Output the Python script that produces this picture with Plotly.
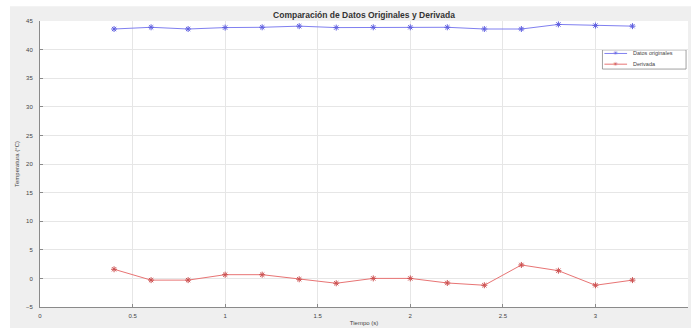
import plotly.graph_objects as go

# Tiempo de muestreo (s)
tiempo = [0.4, 0.6, 0.8, 1.0, 1.2, 1.4, 1.6, 1.8, 2.0, 2.2, 2.4, 2.6, 2.8, 3.0, 3.2]
# Temperatura medida (°C)
datos_originales = [43.6, 43.9, 43.6, 43.85, 43.9, 44.1, 43.85, 43.9, 43.9, 43.9,
                    43.6, 43.6, 44.4, 44.2, 44.1]
# Derivada de la temperatura
derivada = [1.6, -0.3, -0.3, 0.65, 0.65, -0.15, -0.85, 0.0, 0.0, -0.8,
            -1.2, 2.35, 1.35, -1.2, -0.3]

series_names = ["Datos originales", "Derivada"]

x_ticks = [0, 0.5, 1, 1.5, 2, 2.5, 3, 3.5]
x_labels = ["0", "0.5", "1", "1.5", "2", "2.5", "3", "3.5"]
y_ticks = [-5, 0, 5, 10, 15, 20, 25, 30, 35, 40, 45]

FONT = "Liberation Sans, Arial, sans-serif"
BLUE_LINE, BLUE_MARK = "#8080f0", "#6060e0"
RED_LINE, RED_MARK = "#e87474", "#cc5050"

fig = go.Figure()
fig.add_trace(go.Scatter(
    x=tiempo, y=datos_originales, mode="lines+markers", name=series_names[0],
    line=dict(color=BLUE_LINE, width=1),
    marker=dict(symbol="asterisk-open", size=5, color=BLUE_MARK,
                line=dict(color=BLUE_MARK, width=1)),
))
fig.add_trace(go.Scatter(
    x=tiempo, y=derivada, mode="lines+markers", name=series_names[1],
    line=dict(color=RED_LINE, width=1),
    marker=dict(symbol="asterisk-open", size=5, color=RED_MARK,
                line=dict(color=RED_MARK, width=1)),
))

# compact legend box, placed in plot-area fractions
LEG = dict(x0=0.868, x1=0.997, y0=0.832, y1=0.899)
rows = [0.8865, 0.849]
fig.add_shape(type="rect", xref="paper", yref="paper",
              x0=LEG["x0"], x1=LEG["x1"], y0=LEG["y0"], y1=LEG["y1"],
              fillcolor="white", line=dict(color="#7a7a7a", width=0.7),
              layer="between")
for name, yy, lc, mc in zip(series_names, rows,
                            [BLUE_LINE, RED_LINE], [BLUE_MARK, RED_MARK]):
    fig.add_shape(type="line", xref="paper", yref="paper",
                  x0=0.871, x1=0.906, y0=yy, y1=yy,
                  line=dict(color=lc, width=1), layer="above")
    fig.add_annotation(x=0.8885, y=yy, xref="paper", yref="paper",
                       text="✳", showarrow=False, xanchor="center",
                       yanchor="middle", font=dict(size=6, color=mc))
    fig.add_annotation(x=0.912, y=yy, xref="paper", yref="paper",
                       text=name, showarrow=False, xanchor="left",
                       yanchor="middle", font=dict(size=5.5, color="#444"))

# white frame around the gray figure panel
white = dict(type="rect", xref="paper", yref="paper", fillcolor="white",
             line=dict(width=0), layer="below")
fig.add_shape(x0=-0.08, x1=-0.0463, y0=-0.1, y1=1.1, **white)
fig.add_shape(x0=-0.08, x1=1.02, y0=1.052, y1=1.1, **white)

fig.update_layout(
    width=691, height=328,
    margin=dict(l=40, r=3, t=21, b=21),
    paper_bgcolor="#efefef",
    plot_bgcolor="white",
    font=dict(family=FONT, size=6, color="#444"),
    title=dict(text="<b>Comparación de Datos Originales y Derivada</b>",
               x=0.5, xref="paper", xanchor="center",
               y=0.955, yanchor="middle", font=dict(size=8.5, color="#333")),
    showlegend=False,
    xaxis=dict(
        range=[0, 3.5], tickvals=x_ticks, ticktext=x_labels,
        showgrid=True, gridcolor="#e6e6e6", gridwidth=1,
        showline=True, linecolor="#8a8a8a", linewidth=1,
        ticks="inside", ticklen=3, tickcolor="#8a8a8a",
        zeroline=False, ticklabelstandoff=3,
        title=dict(text="Tiempo (s)", standoff=2, font=dict(size=6)),
    ),
    yaxis=dict(
        range=[-5, 45], tickvals=y_ticks,
        showgrid=True, gridcolor="#e6e6e6", gridwidth=1,
        showline=True, linecolor="#8a8a8a", linewidth=1,
        ticks="inside", ticklen=3, tickcolor="#8a8a8a",
        zeroline=False, ticklabelstandoff=5,
        title=dict(text="Temperatura (°C)", standoff=5, font=dict(size=6)),
    ),
)

fig.write_html("out.html")
